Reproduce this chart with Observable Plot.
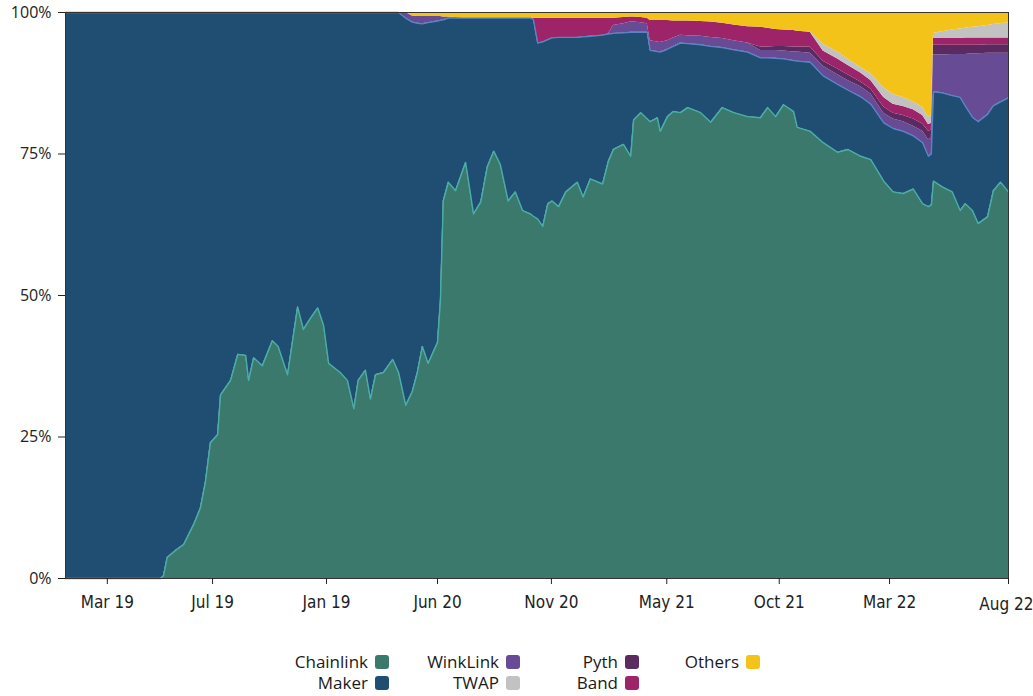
<!DOCTYPE html>
<html>
<head>
<meta charset="utf-8">
<script src="https://cdn.jsdelivr.net/npm/d3@7"></script>
<script src="https://cdn.jsdelivr.net/npm/@observablehq/plot@0.6"></script>
<style>
  html, body { margin: 0; padding: 0; background: #fff; }
  #wrap { position: relative; width: 1033px; height: 696px; overflow: hidden; font-family: "Open Sans", sans-serif; }
  #chart svg { display: block; overflow: visible; }
  .lg-text { position: absolute; font-size: 17px; line-height: 20px; color: #1a1a1a; white-space: nowrap; text-align: right; }
  .lg-sw { position: absolute; width: 14px; height: 14px; border-radius: 3px; }
</style>
</head>
<body>
<div id="wrap">
  <div id="chart"></div>
  <div id="legend"></div>
</div>
<script>
// ---- data (shares in %, days since 1 Jan 2019) ----
const series = ["Chainlink", "Maker", "WinkLink", "Pyth", "Band", "TWAP", "Others"];
const colors = ["#3a796c", "#1f4e72", "#684b95", "#5b2a61", "#9e246a", "#c2c2c2", "#f3c31a"];
const legendOrder = ["Chainlink", "Maker", "WinkLink", "TWAP", "Pyth", "Band", "Others"];

const days = [
  0, 132, 136, 141, 153, 164, 178, 187, 194, 201,
  211, 215, 229, 239, 250, 254, 261, 273, 287, 295,
  308, 322, 330, 340, 350, 358, 365, 381, 391, 400,
  406, 416, 423, 430, 441, 454, 462,
  472, 481, 488, 495, 503, 516, 520, 524, 531, 541,
  555, 566, 576, 585, 594, 603, 614, 624, 634, 645,
  649, 655, 662, 669, 675, 684, 694, 710, 718, 728,
  745, 753, 760, 774, 784, 788, 798, 807, 811, 821,
  825, 835, 843, 853, 863, 881, 895, 911, 927, 946,
  964, 974, 985, 996, 1010, 1015, 1033, 1051, 1071, 1085,
  1103, 1117, 1135, 1148, 1162, 1176, 1189, 1197, 1201, 1204,
  1216, 1230, 1241, 1248, 1258, 1266, 1279, 1287, 1297, 1308
];

const chainlink = [
  0, 0, 0.5, 3.7, 5, 6, 9.6, 12.4, 17, 24,
  25.4, 32.4, 35, 39.6, 39.4, 35, 39, 37.6, 42, 41,
  36, 48, 44, 46, 47.8, 44.7, 38, 36.4, 35, 30,
  35, 36.8, 31.7, 36, 36.4, 38.7, 36.4,
  30.6, 33, 36.4, 41, 38, 41.7, 49, 66.7, 70, 68.5,
  73.5, 64.4, 66.5, 72.7, 75.5, 73.2, 66.7, 68.3, 65, 64.4,
  64, 63.5, 62.2, 66.2, 66.7, 65.7, 68.3, 70, 67.4, 70.6,
  69.7, 73.7, 75.8, 76.7, 74.6, 81, 82.3, 81.2, 80.7, 81.4,
  79, 81.6, 82.5, 82.3, 83.2, 82.3, 80.6, 83.2, 82.3, 81.6,
  81.4, 83.2, 81.6, 83.7, 82.5, 79.7, 79, 77, 75.3, 75.8,
  74.6, 74, 70.2, 68.3, 68, 68.8, 66.2, 65.7, 66, 70.2,
  69.2, 68.3, 65, 66.2, 65, 62.7, 63.9, 68.5, 70, 68.3
];

const maker = [
  100, 100, 99.5, 96.3, 95, 94, 90.4, 87.6, 83, 76,
  74.6, 67.6, 65, 60.4, 60.6, 65, 61, 62.4, 58, 59,
  64, 52, 56, 54, 52.2, 55.3, 62, 63.6, 65, 70,
  65, 63.2, 68.3, 64, 63.6, 61.3, 63.6,
  68.4, 65.3, 61.7, 57, 60.2, 56.8, 49.6, 32, 29, 30.5,
  25.5, 34.6, 32.5, 26.3, 23.5, 25.8, 32.3, 30.7, 34, 34.6,
  34.8, 31.1, 32.6, 29, 28.8, 29.9, 27.3, 25.6, 28.3, 25.2,
  26.3, 22.5, 20.5, 19.7, 21.9, 15.5, 14.2, 15.3, 12.6, 11.7,
  14, 11.9, 11.5, 12.3, 11.3, 12, 13.4, 10.6, 11.1, 11.4,
  10.6, 8.8, 10.3, 8.1, 9, 11.7, 12.2, 11.8, 12, 10.5,
  10.5, 9.8, 10.3, 11.2, 11, 9.4, 10.8, 8.9, 9, 15.8,
  16.6, 17, 20, 17.3, 16.5, 18, 18.1, 15, 14.2, 16.6
];

const winklink = [
  0, 0, 0, 0, 0, 0, 0, 0, 0, 0,
  0, 0, 0, 0, 0, 0, 0, 0, 0, 0,
  0, 0, 0, 0, 0, 0, 0, 0, 0, 0,
  0, 0, 0, 0, 0, 0, 0,
  1, 1.1, 1.2, 1.3, 1.1, 0.8, 0.7, 0.5, 0.2, 0.1,
  0, 0, 0, 0, 0, 0, 0, 0, 0, 0,
  0, 0, 0, 0, 0, 0, 0, 0, 0, 0,
  0, 0, 1.4, 1.6, 1.8, 1.8, 1.7, 1.5, 1.7, 1.7,
  1.7, 1.5, 1.5, 1.4, 1.4, 1.5, 1.6, 1.6, 1.6, 1.6,
  1.3, 1.3, 1.4, 1.4, 1.5, 1.6, 1.6, 1.7, 1.7, 1.7,
  1.8, 1.8, 1.7, 1.7, 1.7, 1.7, 2, 2.9, 2.8, 6.5,
  6.7, 7.3, 7.6, 9.1, 11.2, 12, 10.8, 9.3, 8.6, 7.9
];

const pyth = [
  0, 0, 0, 0, 0, 0, 0, 0, 0, 0,
  0, 0, 0, 0, 0, 0, 0, 0, 0, 0,
  0, 0, 0, 0, 0, 0, 0, 0, 0, 0,
  0, 0, 0, 0, 0, 0, 0,
  0, 0, 0, 0, 0, 0, 0, 0, 0, 0,
  0, 0, 0, 0, 0, 0, 0, 0, 0, 0,
  0, 0, 0, 0, 0, 0, 0, 0, 0, 0,
  0, 0, 0, 0, 0, 0, 0, 0, 0, 0,
  0, 0, 0, 0, 0, 0, 0, 0, 0, 0,
  0.6, 0.6, 0.7, 0.8, 0.9, 0.9, 1.1, 0.9, 1, 1,
  0.8, 0.9, 1.1, 1, 1.1, 1.3, 1.3, 1.5, 1.4, 1.7,
  1.7, 1.6, 1.6, 1.6, 1.5, 1.5, 1.5, 1.5, 1.5, 1.5
];

const band = [
  0, 0, 0, 0, 0, 0, 0, 0, 0, 0,
  0, 0, 0, 0, 0, 0, 0, 0, 0, 0,
  0, 0, 0, 0, 0, 0, 0, 0, 0, 0,
  0, 0, 0, 0, 0, 0, 0,
  0, 0, 0, 0, 0, 0, 0, 0, 0, 0,
  0, 0, 0, 0, 0, 0, 0, 0, 0, 0,
  0.2, 4.4, 4.2, 3.8, 3.5, 3.4, 3.4, 3.4, 3.3, 3.2,
  3, 2.8, 1.3, 1.1, 0.9, 0.9, 0.9, 1, 3.6, 3.8,
  3.9, 3.6, 3, 2.5, 2.6, 2.6, 2.7, 2.7, 2.8, 2.9,
  3.5, 3.3, 3, 2.9, 2.9, 2.8, 2.6, 1.8, 1.8, 1.7,
  1.6, 1.5, 1.7, 1.6, 1.6, 1.6, 1.5, 1.2, 1.2, 1.2,
  1.2, 1.2, 1.2, 1.3, 1.3, 1.3, 1.2, 1.2, 1.2, 1.2
];

const twap = [
  0, 0, 0, 0, 0, 0, 0, 0, 0, 0,
  0, 0, 0, 0, 0, 0, 0, 0, 0, 0,
  0, 0, 0, 0, 0, 0, 0, 0, 0, 0,
  0, 0, 0, 0, 0, 0, 0,
  0, 0, 0, 0, 0, 0, 0, 0, 0, 0,
  0, 0, 0, 0, 0, 0, 0, 0, 0, 0,
  0, 0, 0, 0, 0, 0, 0, 0, 0, 0,
  0, 0, 0, 0, 0, 0, 0, 0, 0, 0,
  0, 0, 0, 0, 0, 0, 0, 0, 0, 0,
  0, 0, 0, 0, 0, 0, 0.1, 1.2, 1.2, 1.1,
  1, 1.2, 1.7, 1.7, 1.6, 1.4, 1.4, 1.3, 1.4, 0.9,
  1.2, 1.5, 1.7, 1.7, 1.9, 2, 2.2, 2.4, 2.5, 2.7
];

const others = [
  0, 0, 0, 0, 0, 0, 0, 0, 0, 0,
  0, 0, 0, 0, 0, 0, 0, 0, 0, 0,
  0, 0, 0, 0, 0, 0, 0, 0, 0, 0,
  0, 0, 0, 0, 0, 0, 0,
  0, 0.6, 0.7, 0.7, 0.7, 0.7, 0.7, 0.8, 0.8, 0.9,
  1, 1, 1, 1, 1, 1, 1, 1, 1, 1,
  1, 1, 1, 1, 1, 1, 1, 1, 1, 1,
  1, 1, 1, 0.9, 0.8, 0.8, 0.9, 1, 1.4, 1.4,
  1.4, 1.4, 1.5, 1.5, 1.5, 1.6, 1.7, 1.9, 2.2, 2.5,
  2.6, 2.8, 3, 3.1, 3.2, 3.3, 3.4, 5.6, 7, 8.2,
  9.7, 10.8, 13.3, 14.5, 15, 15.8, 16.8, 18.5, 18.2, 3.7,
  3.4, 3.1, 2.9, 2.8, 2.6, 2.5, 2.3, 2.1, 2, 1.8
];

const yTicks = [0, 25, 50, 75, 100];
const tickDays = [58, 204, 362, 516, 674, 834, 990, 1143, 1308];
const tickLabels = ["Mar 19", "Jul 19", "Jan 19", "Jun 20", "Nov 20", "May 21", "Oct 21", "Mar 22", "Aug 22"];

// ---- build tidy table ----
const values = [chainlink, maker, winklink, pyth, band, twap, others];
const rows = [];
days.forEach((d, i) => {
  series.forEach((s, j) => rows.push({day: d, series: s, share: values[j][i]}));
});
const tops = days.map((d, i) => ({day: d, chain: chainlink[i], makerTop: chainlink[i] + maker[i]}));
const lastTick = tickDays[tickDays.length - 1];
const xFont = "'Liberation Sans Narrow', 'DejaVu Sans Condensed', Lato, sans-serif";

const chart = Plot.plot({
  width: 1033,
  height: 635,
  marginLeft: 65,
  marginRight: 25,
  marginTop: 12,
  marginBottom: 57,
  x: {domain: [0, 1308]},
  y: {domain: [0, 100]},
  color: {domain: series, range: colors},
  style: {fontFamily: "'Open Sans', sans-serif", fontSize: "16px", color: "#222", background: "white"},
  marks: [
    Plot.areaY(rows, {x: "day", y: "share", fill: "series", order: series, curve: "linear"}),
    Plot.lineY(tops, {x: "day", y: "makerTop", stroke: "#5b83c6", strokeWidth: 1.3}),
    Plot.lineY(tops, {x: "day", y: "chain", stroke: "#4aaea7", strokeWidth: 1.4}),
    Plot.frame({stroke: "#333", strokeWidth: 1}),
    Plot.axisY({ticks: yTicks, tickFormat: d => d + "%", tickSize: 7, tickPadding: 7, label: null, fontSize: 16, stroke: "#222"}),
    Plot.axisX({ticks: tickDays, tickFormat: d => d === lastTick ? "" : tickLabels[tickDays.indexOf(d)],
      tickSize: 6, tickPadding: 11, label: null, fontSize: 17, fontFamily: xFont, stroke: "#222"}),
    Plot.text([lastTick], {x: d => d, frameAnchor: "bottom", lineAnchor: "middle", text: d => tickLabels[tickDays.indexOf(d)],
      textAnchor: "end", dx: 25, dy: 26, fontSize: 17, fontFamily: xFont, fill: "#222"})
  ]
});
document.getElementById("chart").appendChild(chart);

// ---- legend ----
const legend = document.getElementById("legend");
const swatchLeft = [375, 506, 625, 746];
const rowTop = [652, 673];
legendOrder.forEach((name, i) => {
  const col = Math.floor(i / 2), row = i % 2;
  const t = document.createElement("div");
  t.className = "lg-text";
  t.textContent = name;
  t.style.right = (1033 - swatchLeft[col] + 7) + "px";
  t.style.top = rowTop[row] + "px";
  legend.appendChild(t);
  const s = document.createElement("div");
  s.className = "lg-sw";
  s.style.left = swatchLeft[col] + "px";
  s.style.top = (rowTop[row] + 3) + "px";
  s.style.background = colors[series.indexOf(name)];
  legend.appendChild(s);
});
</script>
</body>
</html>
